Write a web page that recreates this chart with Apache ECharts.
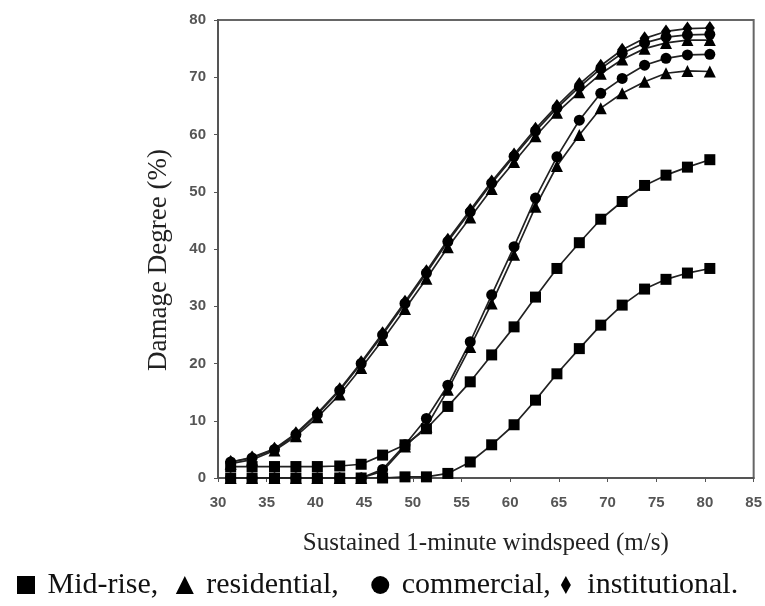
<!DOCTYPE html>
<html>
<head>
<meta charset="utf-8">
<script src="https://cdn.jsdelivr.net/npm/echarts@6/dist/echarts.min.js"></script>
<style>
html, body { margin: 0; padding: 0; background: #fff; }
#chart { width: 765px; height: 606px; }
</style>
</head>
<body>
<div id="chart"></div>
<script>
let myChart = echarts.init(document.getElementById('chart'));

// windspeed (m/s) of each point
let windspeed = [31.3, 33.5, 35.8, 38.0, 40.2, 42.5, 44.7, 46.9, 49.2, 51.4, 53.6, 55.9,
	58.1, 60.4, 62.6, 64.8, 67.1, 69.3, 71.5, 73.8, 76.0, 78.2, 80.5];

// early group
let earlyDiamond = [2.8, 3.6, 5.1, 7.8, 11.3, 15.5, 20.2, 25.3, 30.8, 36.1, 41.6, 46.8,
	51.8, 56.5, 61.0, 65.0, 68.8, 72.0, 74.8, 76.8, 78.0, 78.5, 78.6];
let earlyCircle = [2.8, 3.5, 5.0, 7.6, 11.1, 15.3, 20.0, 25.0, 30.5, 35.8, 41.3, 46.5,
	51.5, 56.2, 60.6, 64.6, 68.3, 71.5, 74.2, 76.0, 77.0, 77.4, 77.5];
let earlyTriangle = [2.5, 3.2, 4.8, 7.3, 10.6, 14.6, 19.2, 24.1, 29.5, 34.8, 40.3, 45.5,
	50.5, 55.2, 59.7, 63.8, 67.4, 70.6, 73.1, 75.0, 76.0, 76.5, 76.5];

// late group
let lateCircle = [0, 0, 0, 0, 0, 0, 0, 1.5, 5.8, 10.4, 16.2, 23.8,
	32.0, 40.4, 48.9, 56.1, 62.5, 67.2, 69.8, 72.1, 73.3, 73.9, 74.0];
let lateTriangle = [0, 0, 0, 0, 0, 0, 0, 1.2, 5.5, 9.0, 15.4, 22.9,
	30.5, 39.0, 47.4, 54.5, 59.9, 64.6, 67.2, 69.2, 70.7, 71.1, 71.0];

// mid-rise squares
let squareUpper = [2.0, 2.0, 2.0, 2.0, 2.0, 2.1, 2.4, 4.0, 5.8, 8.6, 12.5, 16.8,
	21.5, 26.4, 31.6, 36.6, 41.1, 45.2, 48.3, 51.1, 52.9, 54.3, 55.6];
let squareLower = [0, 0, 0, 0, 0, 0, 0, 0, 0.2, 0.2, 0.8, 2.8,
	5.8, 9.3, 13.6, 18.2, 22.6, 26.7, 30.2, 33.0, 34.7, 35.8, 36.6];

let xTicks = [30, 85, 5];
let yTicks = [0, 80, 10];

let diamondPath = 'path://M5,0L10,9L5,18L0,9Z';

function pairs(values) {
	return windspeed.map((x, i) => [x, values[i]]);
}

function makeSeries(name, symbol, size, values) {
	return {
		name: name,
		type: 'line',
		data: pairs(values),
		symbol: symbol,
		symbolSize: size,
		showAllSymbol: true,
		itemStyle: { color: '#000' },
		lineStyle: { color: '#222', width: 1.7 },
		emphasis: { disabled: true }
	};
}

let axisFont = { fontFamily: 'Liberation Sans', fontSize: 15, color: '#555', fontWeight: 'bold' };

option = {
	animation: false,
	grid: {
		left: 218,
		right: 9,
		top: 20,
		bottom: 128,
		show: true,
		borderColor: '#666',
		borderWidth: 2
	},
	legend: {
		left: 12,
		top: 565,
		itemWidth: 18,
		itemHeight: 18,
		itemGap: 10,
		selectedMode: false,
		textStyle: { fontFamily: 'Liberation Serif', fontSize: 30, color: '#111' },
		formatter: function(name) {
			if (name === 'Mid-rise') return ' Mid-rise, ';
			if (name === 'residential') return ' residential,   ';
			if (name === 'commercial') return ' commercial,';
			return ' ' + name + '.';
		},
		data: [
			{ name: 'Mid-rise', icon: 'rect' },
			{ name: 'residential', icon: 'triangle' },
			{ name: 'commercial', icon: 'circle' },
			{ name: 'institutional', icon: diamondPath }
		]
	},
	xAxis: {
		type: 'value',
		min: xTicks[0],
		max: xTicks[1],
		interval: xTicks[2],
		name: 'Sustained 1-minute windspeed (m/s)',
		nameLocation: 'middle',
		nameGap: 53,
		nameTextStyle: { fontFamily: 'Liberation Serif', fontSize: 25, color: '#222' },
		axisLine: { lineStyle: { color: '#555', width: 2 } },
		axisTick: { show: true, length: 4, lineStyle: { color: '#555' } },
		axisLabel: Object.assign({ margin: 17 }, axisFont),
		splitLine: { show: false }
	},
	yAxis: {
		type: 'value',
		min: yTicks[0],
		max: yTicks[1],
		interval: yTicks[2],
		name: 'Damage Degree (%)',
		nameLocation: 'middle',
		nameGap: 46,
		nameTextStyle: { fontFamily: 'Liberation Serif', fontSize: 27, color: '#222', padding: [0, 22, 0, 0] },
		axisLine: { show: true, lineStyle: { color: '#555', width: 2 } },
		axisTick: { show: true, length: 4, lineStyle: { color: '#555' } },
		axisLabel: Object.assign({ margin: 12 }, axisFont),
		splitLine: { show: false }
	},
	series: [
		makeSeries('residential', 'triangle', 12, lateTriangle),
		makeSeries('commercial', 'circle', 11, lateCircle),
		makeSeries('residential', 'triangle', 12, earlyTriangle),
		makeSeries('commercial', 'circle', 11, earlyCircle),
		makeSeries('institutional', 'diamond', [10, 14], earlyDiamond),
		makeSeries('Mid-rise', 'rect', 11, squareLower),
		makeSeries('Mid-rise', 'rect', 11, squareUpper)
	]
};

myChart.setOption(option);
</script>
</body>
</html>
